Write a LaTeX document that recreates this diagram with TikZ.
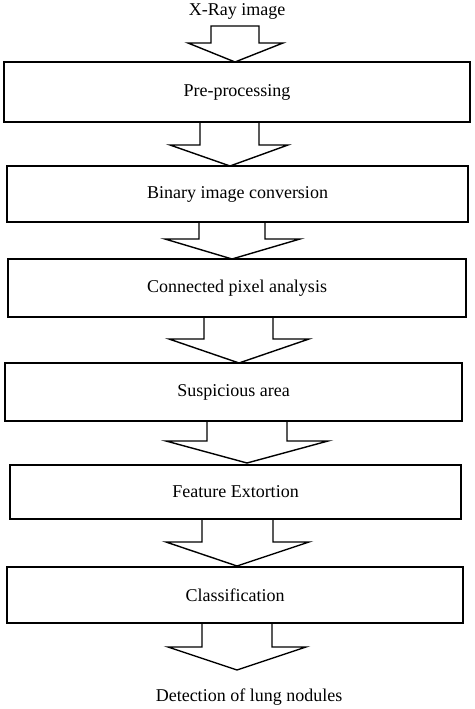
\documentclass[tikz,border=0pt]{standalone}
\usepackage{fontspec}
\setmainfont{Liberation Serif}
\begin{document}
\begin{tikzpicture}[x=1pt,y=-1pt,
  stepbox/.style={draw,line width=1.5pt,inner sep=0pt,font=\fontsize{18}{21}\selectfont},
  lbl/.style={inner sep=0pt,font=\fontsize{18}{21}\selectfont},
  barrowline/.style={draw,line width=1.4pt,line join=miter}]
\useasboundingbox (0,0) rectangle (474,709);
\newcommand\blockarr[8]{%
  \draw[barrowline] (#1,#3) -- (#1,#4) -- (#5,#4) -- (#7,#8) -- (#6,#4) -- (#2,#4) -- (#2,#3);}
\node[lbl] (xray) at (237,11) {X-Ray image};
\node[stepbox,minimum width=466pt,minimum height=60pt] (b1) at (237,92) {Pre-processing};
\node[stepbox,minimum width=461pt,minimum height=56pt] (b2) at (237.5,194) {Binary image conversion};
\node[stepbox,minimum width=458pt,minimum height=58pt] (b3) at (237,288) {Connected pixel analysis};
\node[stepbox,minimum width=457pt,minimum height=58pt] (b4) at (233.5,392) {Suspicious area};
\node[stepbox,minimum width=451pt,minimum height=54pt] (b5) at (235.5,492) {Feature Extortion};
\node[stepbox,minimum width=456pt,minimum height=56pt] (b6) at (235,595) {Classification};
\node[lbl] (det) at (249,697) {Detection of lung nodules};
% arrow 1 (closed top)
\draw[barrowline] (211,26) -- (211,43) -- (188,43) -- (235,62) -- (283,43) -- (259,43) -- (259,26) -- cycle;
\blockarr{200}{259}{122}{145}{170}{288}{230}{166}
\blockarr{199}{265}{222}{239}{165}{300}{232}{259}
\blockarr{204}{273}{317}{339}{169}{309}{239}{363}
\blockarr{207}{287}{421}{441}{166}{328}{247}{463}
\blockarr{202}{273}{519}{542}{166}{309}{237}{566}
\blockarr{202}{272}{623}{647}{168}{306}{237}{670}
\end{tikzpicture}
\end{document}
